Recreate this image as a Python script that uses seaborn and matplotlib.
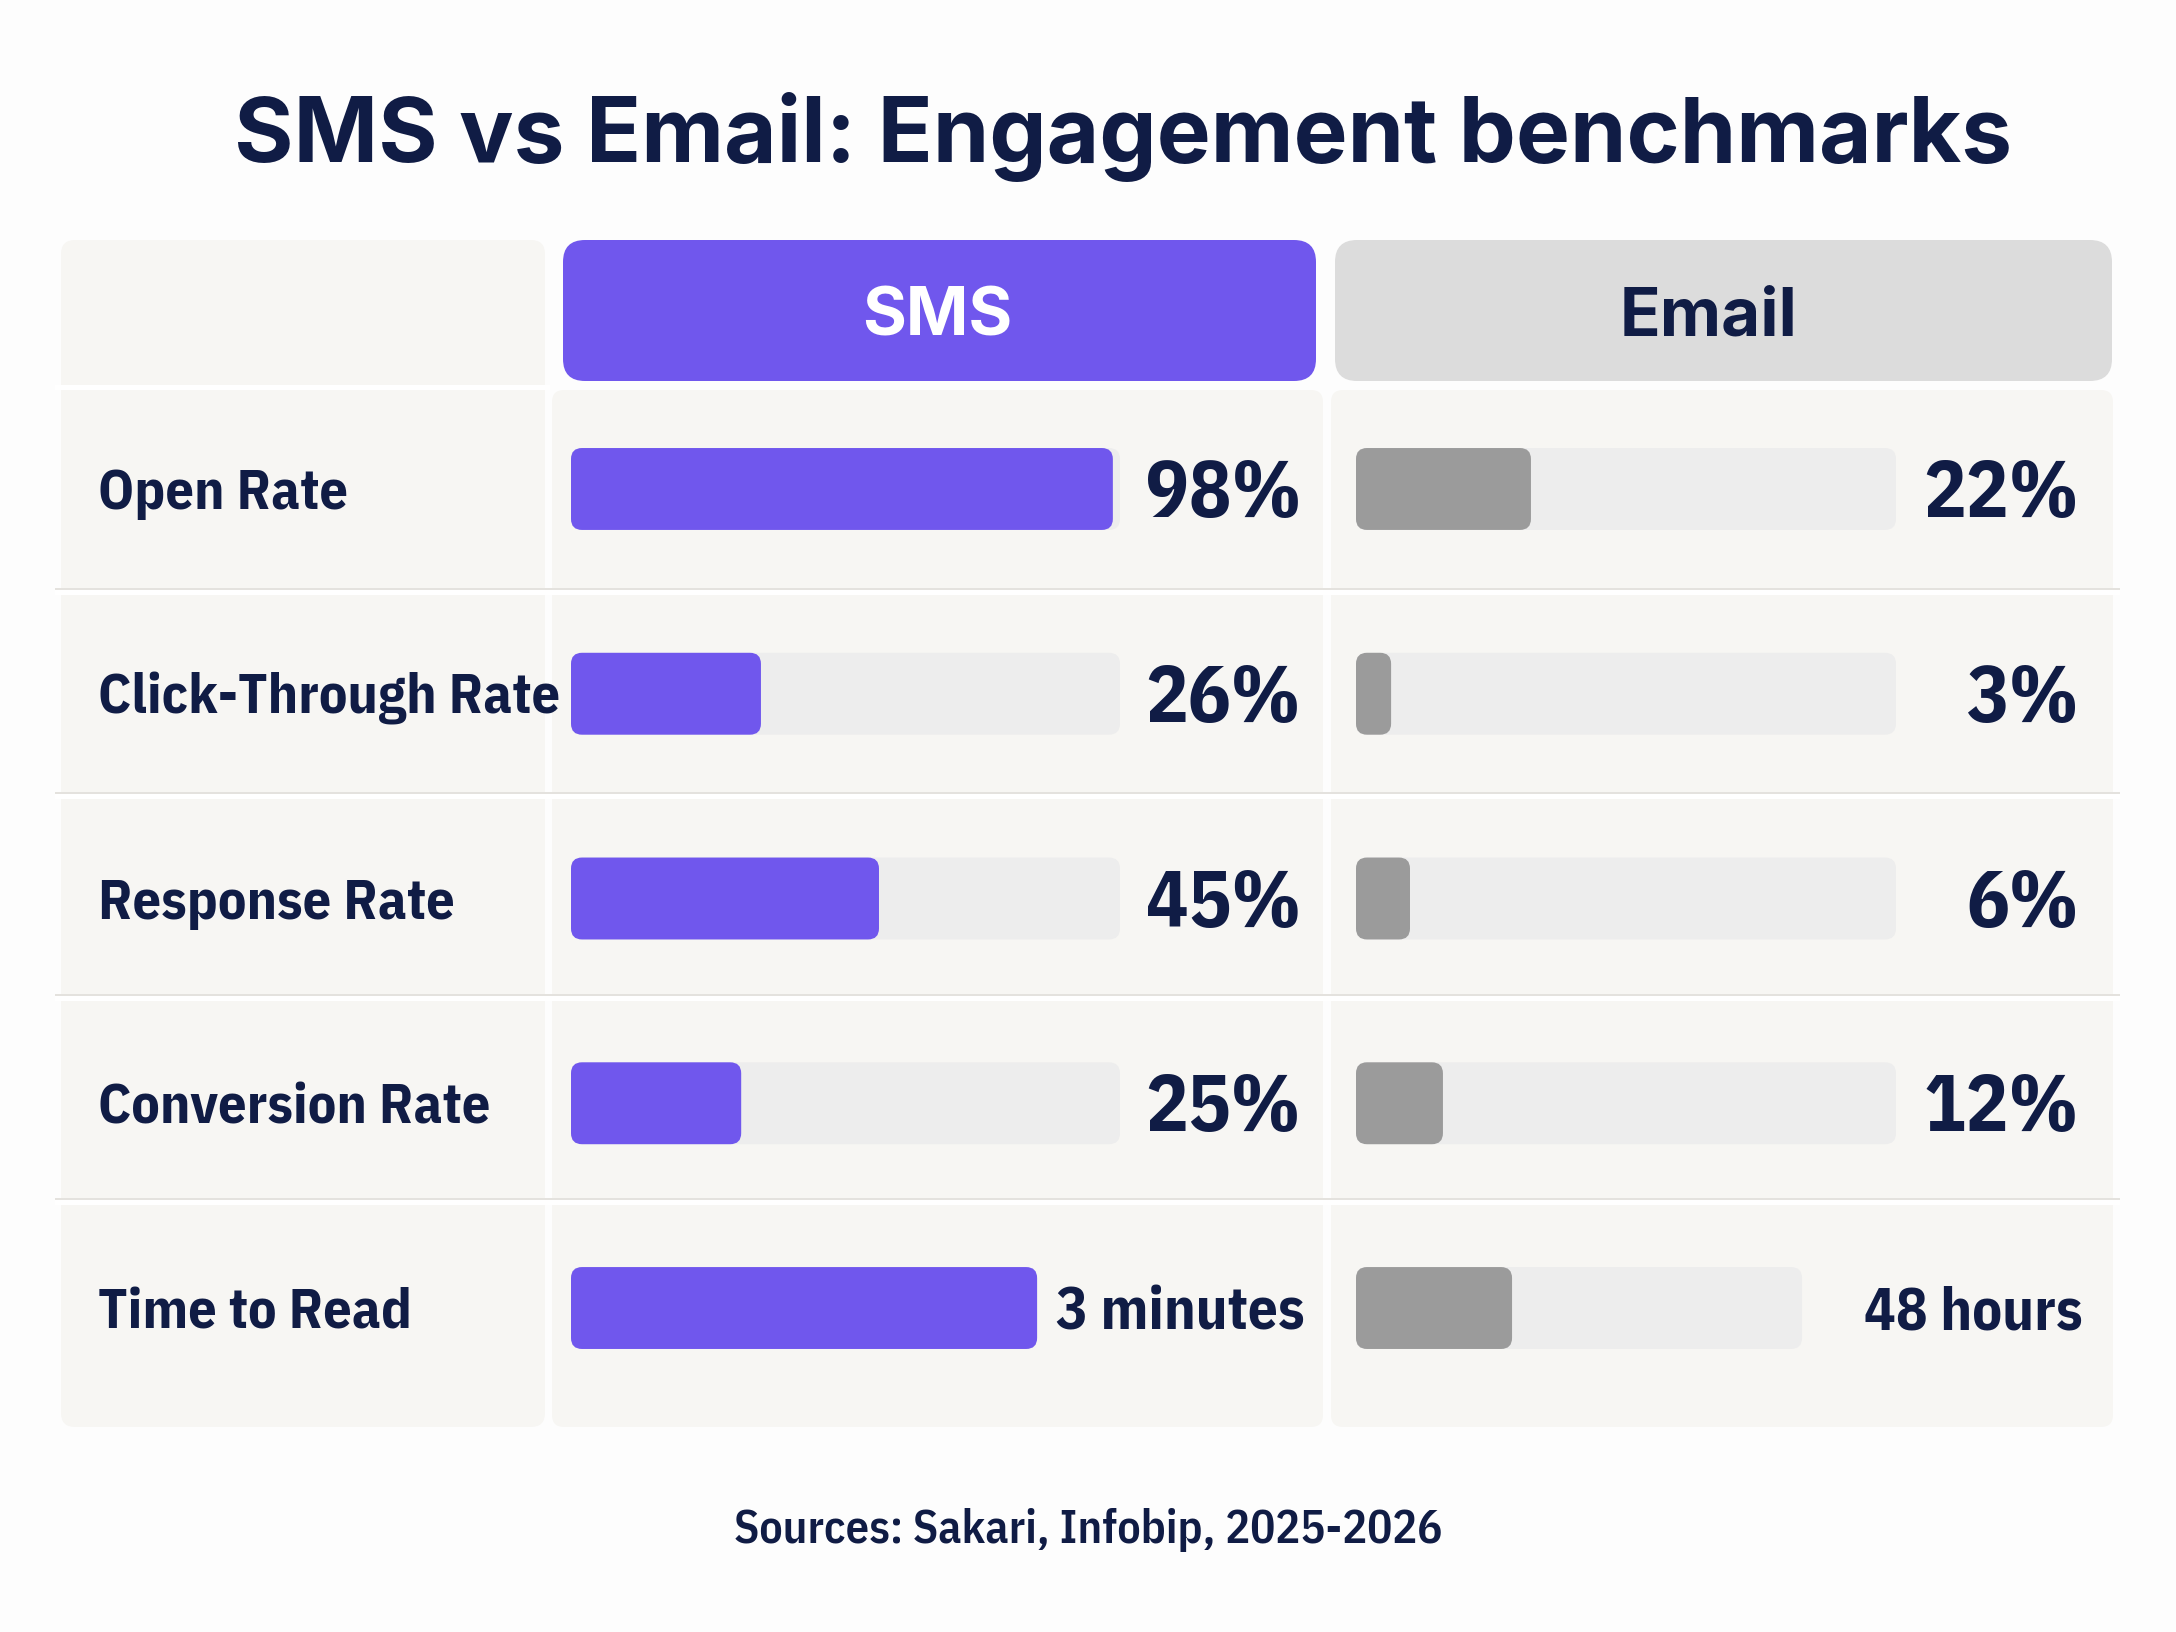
import matplotlib.pyplot as plt
import seaborn as sns
import pandas as pd
from matplotlib.patches import FancyBboxPatch, Rectangle
from matplotlib.transforms import blended_transform_factory, ScaledTranslation

# Data
metrics = ["Open Rate", "Click-Through Rate", "Response Rate", "Conversion Rate", "Time to Read"]
sms_labels = ["98%", "26%", "45%", "25%", "3 minutes"]
email_labels = ["22%", "3%", "6%", "12%", "48 hours"]
# bar lengths as share of the grey track
sms_fill = [98.7, 34.6, 56.1, 31.0, 84.9]
sms_track = [100, 100, 100, 100, 84.9]
email_fill = [32.4, 6.5, 10.0, 16.1, 28.9]
email_track = [100, 100, 100, 100, 82.6]

# Colours
NAVY = "#101c45"
PURPLE = "#7057ed"
GREY_BAR = "#9b9b9b"
TRACK = "#ededed"
CELL = "#f7f6f3"
EMAIL_HEAD = "#dcdcdc"
LINE = "#e4e2de"
BG = "#fdfdfd"

sns.set_theme(style="white")
plt.rcParams['font.family'] = ['Inter', 'DejaVu Sans']
NARROW = ['IBM Plex Sans Condensed', 'DejaVu Sans']

W, H, DPI = 2176, 1632, 200
fig = plt.figure(figsize=(W / DPI, H / DPI), dpi=DPI, facecolor=BG)

# background axes in pixel units
bg = fig.add_axes([0, 0, 1, 1])
bg.set_xlim(0, W)
bg.set_ylim(H, 0)
bg.axis("off")


def box(x0, y0, x1, y1, color, r, z=0):
    bg.add_patch(FancyBboxPatch((x0, y0), x1 - x0, y1 - y0,
                                boxstyle=f"round,pad=0,rounding_size={r}",
                                fc=color, ec="none", zorder=z))


# table cells
box(61, 240, 545, 1427, CELL, 14)
box(552, 390, 1323, 1427, CELL, 12)
box(1331, 390, 2113, 1427, CELL, 12)
bg.add_patch(Rectangle((55, 385), 495, 5, fc="white", ec="none", zorder=1))
for y in [590, 794, 996, 1200]:
    bg.add_patch(Rectangle((55, y - 2), 2065, 2, fc=LINE, ec="none", zorder=1))
    bg.add_patch(Rectangle((55, y), 2065, 5, fc="white", ec="none", zorder=1))

# headers
box(563, 240, 1316, 381, PURPLE, 22, z=2)
box(1335, 240, 2112, 381, EMAIL_HEAD, 22, z=2)
bg.text(937, 335, "SMS", color="white", fontsize=24.2, fontweight="bold",
        ha="center", va="baseline", zorder=3)
bg.text(1709, 335, "Email", color=NAVY, fontsize=24.2, fontweight="bold",
        ha="center", va="baseline", zorder=3)

# title and footer
bg.text(1123, 162, "SMS vs Email: Engagement benchmarks", color=NAVY,
        fontsize=32.7, fontweight="bold", ha="center", va="baseline")
bg.text(1088, 1543, "Sources: Sakari, Infobip, 2025-2026", color=NAVY,
        fontsize=16.7, fontweight="semibold", family=NARROW, ha="center", va="baseline")


def round_bars(ax, radius_px=11):
    ext = ax.get_window_extent()
    px_x = ext.width / 100
    px_y = ext.height / len(metrics)
    for p in list(ax.patches):
        x, y, w, h = p.get_x(), p.get_y(), p.get_width(), p.get_height()
        rounded = FancyBboxPatch((x, y), w, h,
                                 boxstyle=f"round,pad=0,rounding_size={radius_px / px_x}",
                                 mutation_aspect=px_x / px_y,
                                 fc=p.get_facecolor(), ec="none", zorder=p.get_zorder())
        p.remove()
        ax.add_patch(rounded)


def draw_column(x0, x1, fill, track, color, labels, label_x):
    ax = fig.add_axes([x0 / W, 1 - 1410.4 / H, (x1 - x0) / W, (1410.4 - 386.6) / H])
    ax.patch.set_alpha(0)
    df = pd.DataFrame({"metric": metrics, "fill": fill, "track": track})
    sns.barplot(data=df, x="track", y="metric", color=TRACK, saturation=1,
                width=0.4, ax=ax)
    sns.barplot(data=df, x="fill", y="metric", color=color, saturation=1,
                width=0.4, ax=ax)
    ax.set_xlim(0, 100)
    ax.set_ylim(len(metrics) - 0.5, -0.5)
    ax.axis("off")
    round_bars(ax)

    trans = blended_transform_factory(bg.transData, ax.transData)
    for i, lab in enumerate(labels):
        is_pct = lab.endswith("%")
        size = 28.5 if is_pct else 21.3
        cap = 56 if is_pct else 42
        off = ScaledTranslation(0, -cap / 2 / DPI, fig.dpi_scale_trans)
        ax.text(label_x if is_pct else label_x + 4, i, lab, transform=trans + off,
                color=NAVY, fontsize=size, fontweight="bold", family=NARROW,
                ha="right", va="baseline", clip_on=False)
    return ax


ax_sms = draw_column(571, 1120, sms_fill, sms_track, PURPLE, sms_labels, 1301)
ax_email = draw_column(1356, 1896, email_fill, email_track, GREY_BAR, email_labels, 2079)

# row labels
trans = blended_transform_factory(bg.transData, ax_sms.transData)
off = ScaledTranslation(0, -20 / DPI, fig.dpi_scale_trans)
for i, m in enumerate(metrics):
    ax_sms.text(98, i, m, transform=trans + off, color=NAVY, fontsize=20.3,
                fontweight="bold", family=NARROW, ha="left", va="baseline",
                clip_on=False)

fig.savefig("out.png", dpi=DPI, facecolor=BG)
